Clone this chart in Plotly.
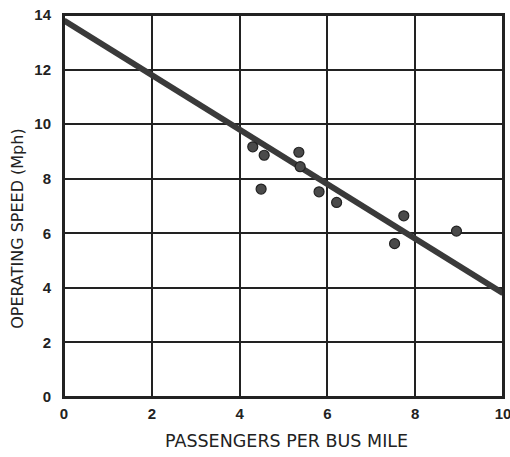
import plotly.graph_objects as go

# Data
passengers = [4.30, 4.56, 5.35, 5.38, 4.49, 5.81, 6.21, 7.74, 7.53, 8.94]
speed = [9.17, 8.86, 8.97, 8.44, 7.62, 7.52, 7.13, 6.64, 5.62, 6.08]
fit_x = [0, 10]
fit_y = [13.8, 3.8]
x_ticks = [0, 2, 4, 6, 8, 10]
y_ticks = [0, 2, 4, 6, 8, 10, 12, 14]
x_title = "PASSENGERS PER BUS MILE"
y_title = "OPERATING SPEED (Mph)"

fig = go.Figure()
fig.add_trace(go.Scatter(x=fit_x, y=fit_y, mode="lines",
                         line=dict(color="#3a3a3a", width=6), showlegend=False))
fig.add_trace(go.Scatter(x=passengers, y=speed, mode="markers",
                         marker=dict(size=10, color="#4a4a4a",
                                     line=dict(color="#222", width=1.2)),
                         showlegend=False))

tickfont = dict(size=15, family="Liberation Sans", color="#222")
fig.update_layout(
    template="none",
    width=510, height=457,
    margin=dict(l=64, r=7, t=15, b=60),
    paper_bgcolor="white", plot_bgcolor="white",
    font=dict(family="Liberation Sans", color="#222"),
    shapes=[dict(type="rect", xref="paper", yref="paper", x0=0, x1=1, y0=0, y1=1,
                 line=dict(color="#222", width=2), layer="above")],
    annotations=[
        dict(text=x_title, xref="paper", yref="paper", x=0.506, y=-0.115,
             xanchor="center", yanchor="middle", showarrow=False,
             font=dict(size=17.5, family="DejaVu Sans", color="#222")),
        dict(text=y_title, xref="paper", yref="paper", x=-0.105, y=0.44,
             xanchor="center", yanchor="middle", showarrow=False, textangle=-90,
             font=dict(size=16, family="DejaVu Sans", color="#222")),
    ],
)
fig.update_xaxes(range=[0, 10], tickvals=x_ticks,
                 ticktext=[f"<b>{v}</b>" for v in x_ticks],
                 showgrid=True, gridcolor="#222", gridwidth=1.5, zeroline=False,
                 showline=True, linecolor="#222", linewidth=2, mirror=True,
                 ticks="outside", ticklen=2, tickcolor="rgba(0,0,0,0)",
                 ticklabeloverflow="allow",
                 automargin=False, tickfont=tickfont)
fig.update_yaxes(range=[0, 14], tickvals=y_ticks,
                 ticktext=[f"<b>{v}</b>" for v in y_ticks],
                 showgrid=True, gridcolor="#222", gridwidth=1.5, zeroline=False,
                 showline=True, linecolor="#222", linewidth=2, mirror=True,
                 ticks="outside", ticklen=8, tickcolor="rgba(0,0,0,0)",
                 ticklabeloverflow="allow",
                 automargin=False, tickfont=tickfont)

fig.write_html(
    "out.html",
    config={"displayModeBar": False},
    post_script=(
        "document.documentElement.style.margin='0';"
        "document.documentElement.style.overflow='hidden';"
        "document.body.style.margin='0';"
        "document.body.style.overflow='hidden';"
    ),
)
